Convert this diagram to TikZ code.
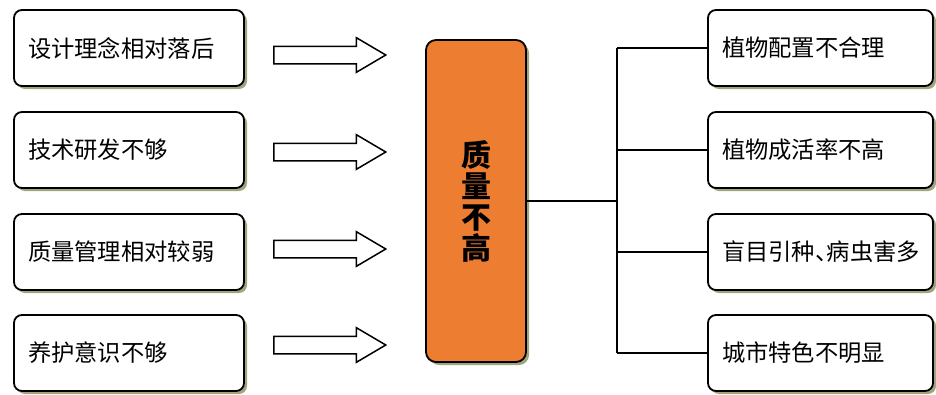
\documentclass[tikz,border=0pt]{standalone}
\usepackage{fontspec}
\newfontfamily\cjk{Noto Sans CJK SC}
\usetikzlibrary{shadows,shapes.arrows}
\definecolor{shadowc}{RGB}{160,165,125}
\definecolor{orangec}{RGB}{237,125,49}
\begin{document}
\begin{tikzpicture}[x=1pt,y=-1pt,
  shadowed/.style={drop shadow={shadow xshift=3pt,shadow yshift=-3pt,fill=shadowc,opacity=1}},
  textbox/.style={draw=black,line width=1.8pt,rounded corners=8pt,fill=white,shadowed,
    minimum height=76pt,inner xsep=14pt,inner ysep=0pt,align=left,font=\cjk\fontsize{23.3}{26}\selectfont},
  lbox/.style={textbox,text width=202pt},
  rbox/.style={textbox,text width=197pt},
  mainbox/.style={draw=black,line width=1.8pt,rounded corners=10pt,fill=orangec,shadowed,
    minimum width=100pt,minimum height=322pt,inner sep=0pt,align=center,
    font=\cjk\bfseries\fontsize{30}{31}\selectfont},
  blockarrow/.style={single arrow,draw=black,line width=1.5pt,fill=white,anchor=tail,
    minimum height=112pt,inner xsep=0pt,inner ysep=8pt,single arrow head extend=8.5pt,
    single arrow tip angle=61,text width=0pt,text height=0pt,text depth=0pt},
  conn/.style={draw=black,line width=1.5pt}
]
\useasboundingbox (0,0) rectangle (936,394);

\node[lbox] (L1) at (129,48) {设计理念相对落后};
\node[lbox] (L2) at (129,150) {技术研发不够};
\node[lbox] (L3) at (129,252) {质量管理相对较弱};
\node[lbox] (L4) at (129,353) {养护意识不够};

\node[blockarrow] (A1) at (273,55) {};
\node[blockarrow] (A2) at (273,152) {};
\node[blockarrow] (A3) at (273,249) {};
\node[blockarrow] (A4) at (273,345) {};

\node[mainbox] (C) at (476,201) {质\\量\\不\\高};

\node[rbox] (R1) at (820.5,48) {植物配置不合理};
\node[rbox] (R2) at (820.5,150) {植物成活率不高};
\node[rbox] (R3) at (820.5,252) {盲目引种、\kern-0.5em病虫害多};
\node[rbox] (R4) at (820.5,353) {城市特色不明显};

\coordinate (J) at (617,201);
\draw[conn] (C.east) -- (J);
\draw[conn] (J |- R1.west) -- (J |- R4.west);
\draw[conn] (J |- R1.west) -- (R1.west);
\draw[conn] (J |- R2.west) -- (R2.west);
\draw[conn] (J |- R3.west) -- (R3.west);
\draw[conn] (J |- R4.west) -- (R4.west);
\end{tikzpicture}
\end{document}
